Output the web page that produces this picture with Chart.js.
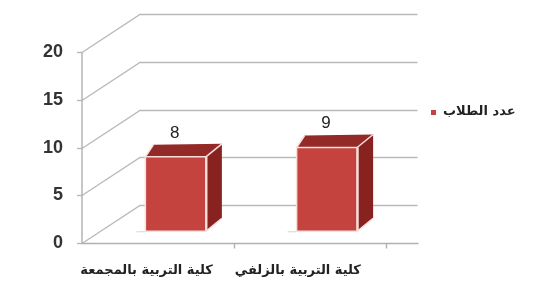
<!DOCTYPE html>
<html><head><meta charset="utf-8">
<script src="https://cdn.jsdelivr.net/npm/chart.js@4/dist/chart.umd.min.js"></script>
<style>html,body{margin:0;padding:0;background:#fff;overflow:hidden}</style>
</head><body>
<canvas id="c" width="551" height="291" style="width:551px;height:291px;display:block"></canvas>
<script>
// ---- data ----
const categories = ['كلية التربية بالمجمعة', 'كلية التربية بالزلفي'];
const seriesName = 'عدد الطلاب';
const studentCounts = [8, 9];
const yTickValues = [0, 5, 10, 15, 20];

// ---- style ----
const FRONT = '#C4433F', SIDE = '#87221F', TOP = '#932A27', EDGE = '#F8DEDC';
const GRID = '#BABABA';
const AR_FONT = '"DejaVu Sans", sans-serif';

const frame3d = {
  id: 'frame3d',
  beforeDatasetsDraw(chart) {
    const {ctx, chartArea, scales} = chart;
    const y = scales.y, x = scales.x;
    const fx = chartArea.left - 18;
    const dX = 58, dY = -38;
    const rightEnd = chartArea.right + 15;
    ctx.save();
    ctx.strokeStyle = GRID; ctx.lineWidth = 1.4;
    yTickValues.forEach(v => {
      const py = Math.round(y.getPixelForValue(v)) + 0.5;
      ctx.beginPath(); ctx.moveTo(fx, py); ctx.lineTo(fx + dX, py + dY); ctx.lineTo(rightEnd, py + dY); ctx.stroke();
      ctx.beginPath(); ctx.moveTo(fx - 5, py); ctx.lineTo(fx, py); ctx.stroke();
    });
    const y0 = Math.round(y.getPixelForValue(0)) + 0.5;
    ctx.strokeStyle = '#B0B0B0';
    ctx.beginPath();
    ctx.moveTo(fx, y.getPixelForValue(yTickValues[yTickValues.length - 1]));
    ctx.lineTo(fx, y0); ctx.lineTo(rightEnd + 1, y0); ctx.stroke();
    const step = x.getPixelForValue(1) - x.getPixelForValue(0);
    categories.forEach((c, i) => {
      const tx = Math.round(x.getPixelForValue(i) + step / 2 - 17) + 0.5;
      ctx.beginPath(); ctx.moveTo(tx, y0); ctx.lineTo(tx, y0 + 5); ctx.stroke();
    });
    ctx.restore();
  },
  afterDatasetsDraw(chart) {
    const {ctx} = chart;
    const meta = chart.getDatasetMeta(0);
    ctx.save();
    meta.data.forEach((bar, i) => {
      const p = bar.getProps(['x', 'y', 'base', 'width'], true);
      const L = p.x - p.width / 2, R = p.x + p.width / 2, T = p.y, B = p.base;
      ctx.strokeStyle = '#D4D4D4'; ctx.lineWidth = 1;
      ctx.beginPath(); ctx.moveTo(L - 9, B + 0.5); ctx.lineTo(L, B + 0.5); ctx.stroke();
      ctx.fillStyle = SIDE;
      ctx.beginPath();
      ctx.moveTo(R, T); ctx.lineTo(R + 16, T - 13); ctx.lineTo(R + 16, B - 13); ctx.lineTo(R, B); ctx.closePath();
      ctx.fill();
      ctx.fillStyle = TOP;
      ctx.beginPath();
      ctx.moveTo(L, T); ctx.lineTo(L + 8, T - 12); ctx.lineTo(R + 16, T - 13); ctx.lineTo(R, T); ctx.closePath();
      ctx.fill();
      ctx.strokeStyle = EDGE; ctx.lineWidth = 1.5; ctx.lineJoin = 'round';
      ctx.beginPath();
      ctx.moveTo(L, B); ctx.lineTo(L, T); ctx.lineTo(R, T); ctx.lineTo(R, B); ctx.lineTo(L, B);
      ctx.moveTo(R, T); ctx.lineTo(R + 16, T - 13);
      ctx.moveTo(L, T); ctx.lineTo(L + 8, T - 12);
      ctx.moveTo(R, B); ctx.lineTo(R + 16, B - 13);
      ctx.stroke();
      ctx.lineWidth = 2.2;
      ctx.beginPath(); ctx.moveTo(R + 0.5, T); ctx.lineTo(R + 0.5, B); ctx.stroke();
      ctx.fillStyle = '#222';
      ctx.font = '17px "Liberation Sans", Arial, sans-serif';
      ctx.textAlign = 'center'; ctx.textBaseline = 'middle';
      ctx.fillText(String(studentCounts[i]), p.x - 1, T - 24);
    });
    ctx.restore();
  },
  afterDraw(chart) {
    const {ctx} = chart;
    ctx.save();
    ctx.fillStyle = FRONT;
    ctx.fillRect(431, 110, 5, 5);
    ctx.fillStyle = '#222';
    ctx.font = 'bold 13px ' + AR_FONT;
    ctx.textAlign = 'left'; ctx.textBaseline = 'middle';
    ctx.fillText(seriesName, 443, 112);
    ctx.restore();
  }
};

new Chart(document.getElementById('c'), {
  type: 'bar',
  data: {
    labels: categories,
    datasets: [{
      label: seriesName,
      data: studentCounts,
      yAxisID: 'yBar',
      backgroundColor: FRONT,
      borderWidth: 0,
      categoryPercentage: 1,
      barPercentage: 0.4
    }]
  },
  options: {
    responsive: false,
    animation: false,
    devicePixelRatio: 1,
    layout: { padding: { left: 0, right: 148.5, top: 52, bottom: 0 } },
    plugins: { legend: { display: false }, tooltip: { enabled: false } },
    scales: {
      x: {
        type: 'category',
        grid: { display: false, drawTicks: false },
        border: { display: false },
        ticks: {
          maxRotation: 0, autoSkip: false, padding: 20, labelOffset: -29,
          color: '#222', font: { family: AR_FONT, size: 13, weight: 'bold' }
        },
        afterFit(s) { s.height = 46; }
      },
      y: {
        type: 'linear', position: 'left',
        min: yTickValues[0], max: yTickValues[yTickValues.length - 1],
        grid: { display: false, drawTicks: false },
        border: { display: false },
        ticks: {
          stepSize: 5, padding: 37, color: '#333',
          font: { family: '"Liberation Sans", Arial, sans-serif', size: 18, weight: 'bold' }
        },
        afterFit(s) { s.width = 100; }
      },
      yBar: {
        type: 'linear', display: false,
        min: -1.28, max: 19.26
      }
    }
  },
  plugins: [frame3d]
});
</script>
</body></html>
